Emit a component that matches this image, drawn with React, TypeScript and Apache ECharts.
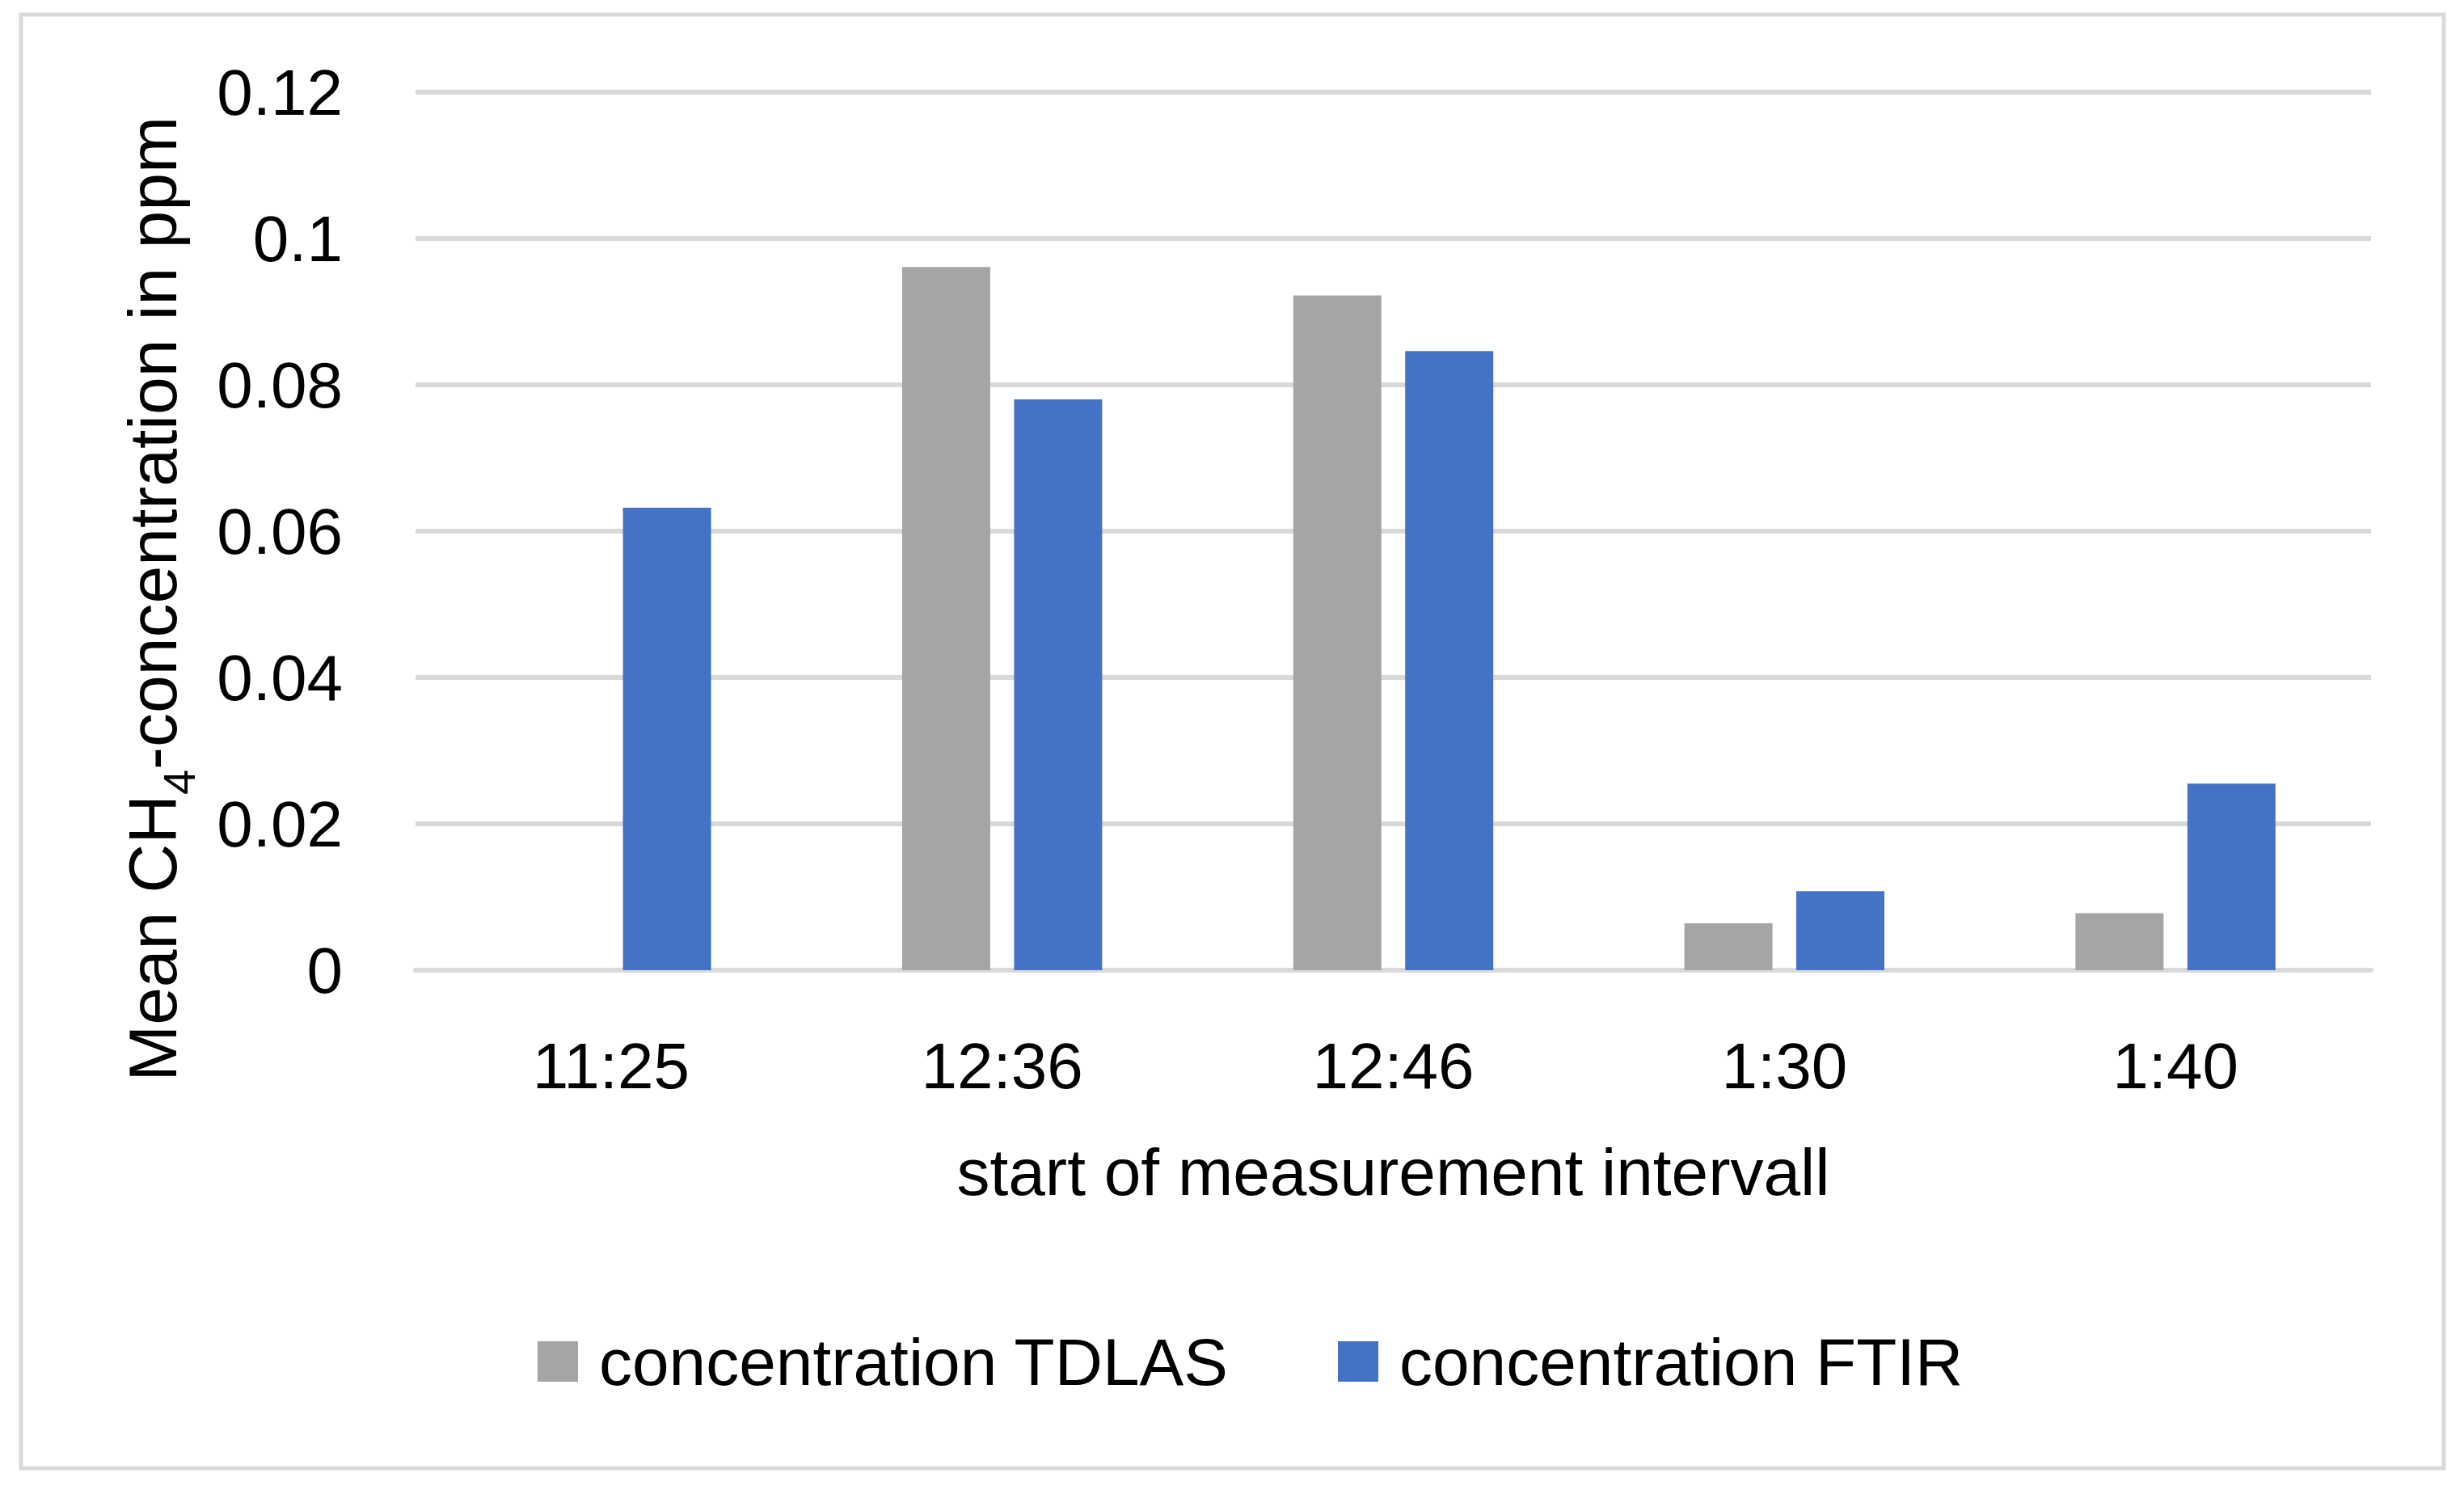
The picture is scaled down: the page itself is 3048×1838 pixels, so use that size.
import React, { useEffect, useRef } from "react";
import * as echarts from "echarts";

const categories = ["11:25", "12:36", "12:46", "1:30", "1:40"];
const tdlasValues = [0, 0.0961, 0.0922, 0.0064, 0.0078];
const ftirValues = [0.0632, 0.078, 0.0846, 0.0108, 0.0255];
const seriesNames = ["concentration TDLAS", "concentration FTIR"];
const yTicks = { min: 0, max: 0.12, interval: 0.02 };

const FONT = "Liberation Sans";
const GRID_COLOR = "#D9D9D9";

export default function App() {
  const ref = useRef<HTMLDivElement>(null);
  useEffect(() => {
    if (!ref.current) return;
    const chart = echarts.init(ref.current, null, { renderer: "svg" });
    chart.setOption({
      animation: false,
      backgroundColor: "#ffffff",
      textStyle: { fontFamily: FONT, color: "#000000" },
      grid: { left: 514, right: 115, top: 114, bottom: 638, containLabel: false },
      legend: [
        {
          data: [seriesNames[0]],
          left: 660,
          top: 1638,
          icon: "rect",
          itemWidth: 50,
          itemHeight: 50,
          textStyle: { fontFamily: FONT, fontSize: 82, lineHeight: 82, color: "#000", padding: [0, 0, 0, 21] },
        },
        {
          data: [seriesNames[1]],
          left: 1650,
          top: 1638,
          icon: "rect",
          itemWidth: 50,
          itemHeight: 50,
          textStyle: { fontFamily: FONT, fontSize: 82, lineHeight: 82, color: "#000", padding: [0, 0, 0, 21] },
        },
      ],
      xAxis: {
        type: "category",
        data: categories,
        name: "start of measurement intervall",
        nameLocation: "middle",
        nameGap: 208,
        nameTextStyle: { fontFamily: FONT, fontSize: 82, lineHeight: 82, color: "#000" },
        axisLine: { show: true, lineStyle: { color: GRID_COLOR, width: 6 } },
        axisTick: { show: false },
        axisLabel: { fontFamily: FONT, fontSize: 80, lineHeight: 80, color: "#000", margin: 78 },
      },
      yAxis: {
        type: "value",
        min: yTicks.min,
        max: yTicks.max,
        interval: yTicks.interval,
        axisLine: { show: false },
        axisTick: { show: false },
        splitLine: { show: true, lineStyle: { color: GRID_COLOR, width: 6 } },
        axisLabel: {
          fontFamily: FONT,
          fontSize: 80,
          color: "#000",
          margin: 90,
          formatter: (v: number) => String(parseFloat(v.toFixed(2))),
        },
      },
      graphic: [
        {
          type: "rect",
          shape: { x: 26, y: 18, width: 2997, height: 1798 },
          style: { fill: "none", stroke: GRID_COLOR, lineWidth: 5 },
          silent: true,
        },
        {
          type: "text",
          x: 189,
          y: 741,
          rotation: Math.PI / 2,
          style: {
            text: "{a|Mean CH}{s|4}{a|-concentration in ppm}",
            align: "center",
            verticalAlign: "middle",
            fill: "#000",
            rich: {
              a: { fontFamily: FONT, fontSize: 84, lineHeight: 84, fill: "#000" },
              s: { fontFamily: FONT, fontSize: 56, lineHeight: 56, fill: "#000", padding: [64, 0, 0, 0] },
            },
          },
          silent: true,
        },
      ],
      series: [
        {
          name: seriesNames[0],
          type: "bar",
          data: tdlasValues,
          barWidth: 109,
          barGap: "27%",
          itemStyle: { color: "#A5A5A5" },
        },
        {
          name: seriesNames[1],
          type: "bar",
          data: ftirValues,
          barWidth: 109,
          barGap: "27%",
          itemStyle: { color: "#4472C4" },
        },
      ],
    });
    return () => chart.dispose();
  }, []);
  return (
    <div
      ref={ref}
      style={{ position: "fixed", left: 0, top: 0, width: 3048, height: 1838, background: "#fff" }}
    />
  );
}
